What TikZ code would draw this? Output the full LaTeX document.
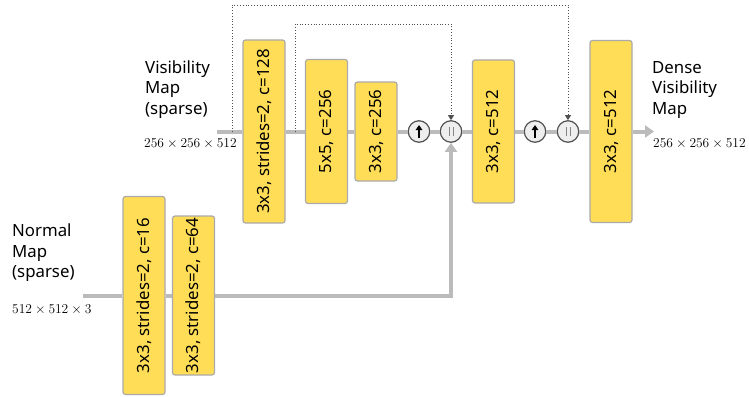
\RequirePackage{fix-cm}
\documentclass[tikz,border=0pt]{standalone}
\usepackage{fontspec}
\setmainfont{Noto Sans}
\usetikzlibrary{positioning, calc, arrows.meta}
\definecolor{layer}{RGB}{255,221,87}
\definecolor{edge}{RGB}{170,170,170}
\definecolor{flow}{RGB}{187,187,187}
\definecolor{opfill}{RGB}{238,238,238}
\definecolor{opline}{RGB}{80,80,80}
\tikzstyle{Layer} = [draw=edge, fill=layer, line width=1.2pt, rounded corners=2.5pt,
rotate=90, minimum height=42pt, inner sep=0pt, font=\fontsize{16.8}{19}\selectfont]
\tikzstyle{Op} = [circle, draw=opline, fill=opfill, line width=1.2pt,
minimum size=21.5pt, inner sep=0pt]
\tikzstyle{Flow} = [draw=flow, line width=4pt]
\tikzstyle{Skip} = [draw=opline, dotted, line width=0.8pt,
-{Triangle[length=5pt, width=6pt]}]
\tikzstyle{Label} = [align=left, inner sep=0pt, anchor=west,
font=\fontsize{16.8}{20.5}\selectfont]
\tikzstyle{Size} = [inner sep=0pt, anchor=west, font=\fontsize{13.5}{15}\selectfont]

\begin{document}
\begin{tikzpicture}[x=1pt, y=-1pt]
    \useasboundingbox (0,0) rectangle (749,396);

    \node [Layer, minimum width=183pt] (1) at (264,131.5) {3x3, strides=2, c=128};
    \node [Layer, minimum width=144pt] (2) at (326.5,131.5) {5x5, c=256};
    \node [Layer, minimum width=99pt] (3) at (376,131.5) {3x3, c=256};
    \node [Op] (up1) at (419,131.5) {};
    \node [Op] (cat1) at (451,131.5) {};
    \node [Layer, minimum width=143pt] (4) at (493.5,131.5) {3x3, c=512};
    \node [Op] (up2) at (535,131.5) {};
    \node [Op] (cat2) at (568,131.5) {};
    \node [Layer, minimum width=182pt] (5) at (611,131.5) {3x3, c=512};
    \node [Layer, minimum width=198pt] (6) at (144,295.5) {3x3, strides=2, c=16};
    \node [Layer, minimum width=159pt] (7) at (193.5,295.5) {3x3, strides=2, c=64};

    \node [Label] (vis) at (145,89.5) {Visibility\\Map\\(sparse)};
    \node [Size] (vissize) at (144,144) {$256\times256\times512$};
    \node [Label] (dense) at (652,90) {Dense\\Visibility\\Map};
    \node [Size] (densesize) at (653,144) {$256\times256\times512$};
    \node [Label] (nrm) at (12,253) {Normal\\Map\\(sparse)};
    \node [Size] (nrmsize) at (12,310) {$512\times512\times3$};

    \coordinate (in) at (217,131.5);
    \coordinate (out) at (654,131.5);
    \coordinate (nin) at (83,295.5);
    \coordinate (s1) at (232,131.5);
    \coordinate (t1) at (232,5);
    \coordinate (s2) at (295,131.5);
    \coordinate (t2) at (295,24);

    \draw[Flow] (in) -- (1);
    \draw[Flow] (1) -- (2);
    \draw[Flow] (2) -- (3);
    \draw[Flow] (3) -- (up1);
    \draw[Flow] (up1) -- (cat1);
    \draw[Flow] (cat1) -- (4);
    \draw[Flow] (4) -- (up2);
    \draw[Flow] (up2) -- (cat2);
    \draw[Flow] (cat2) -- (5);
    \draw[Flow, -{Triangle[length=9pt, width=12pt]}] (5) -- (out);
    \draw[Flow] (nin) -- (6);
    \draw[Flow] (6) -- (7);
    \draw[Flow, -{Triangle[length=9pt, width=12pt]}] (7) -| (cat1);

    \draw[Skip] (s1) -- (t1) -| (cat2);
    \draw[Skip] (s2) -- (t2) -| (cat1);

    \foreach \u in {up1, up2} {
        \draw[black, line width=1.4pt, -{Triangle[length=5pt, width=6.5pt]}]
            ([yshift=-6.5pt]\u.center) -- ([yshift=6.5pt]\u.center);
    }
    \foreach \c in {cat1, cat2} {
        \draw[opline!70, line width=0.9pt] ([xshift=-2pt, yshift=-4.5pt]\c.center) -- ([xshift=-2pt, yshift=4.5pt]\c.center);
        \draw[opline!70, line width=0.9pt] ([xshift=2pt, yshift=-4.5pt]\c.center) -- ([xshift=2pt, yshift=4.5pt]\c.center);
    }
\end{tikzpicture}
\end{document}
